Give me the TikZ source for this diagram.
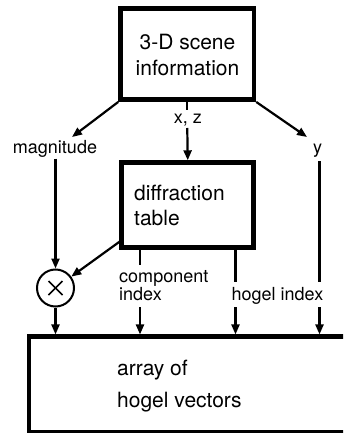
\documentclass[tikz,border=0pt]{standalone}
\usepackage{fontspec}
\setmainfont{TeX Gyre Heros}
\usetikzlibrary{arrows.meta}
\begin{document}
\begin{tikzpicture}[x=1pt,y=-1pt,
  bigbox/.style={draw,line width=4.5pt,inner sep=0pt,rectangle},
  arr/.style={line width=2.2pt,-{Triangle[length=10pt,width=8pt]}},
  ln/.style={line width=2.2pt},
  big/.style={font=\fontsize{21}{25}\selectfont,inner sep=0pt},
  small/.style={font=\fontsize{18}{20}\selectfont,inner sep=0pt}]
\useasboundingbox (0,0) rectangle (343,433);
\clip (0,0) rectangle (343,433);
% boxes
\node[bigbox,minimum width=133.5pt,minimum height=91.4pt] (scene) at (187.25,54) {};
\node[bigbox,line width=5pt,minimum width=132.1pt,minimum height=84.7pt] (table) at (187.75,205.15) {};
\node[bigbox,minimum width=331.2pt,minimum height=95.8pt] (array) at (194.4,384.6) {};
\node[draw,circle,line width=2pt,minimum size=37pt,inner sep=0pt] (mult) at (55.5,288) {};
\draw[line width=1.6pt] ([shift={(-7,-7)}]mult.center) -- ([shift={(7,7)}]mult.center);
\draw[line width=1.6pt] ([shift={(-7,7)}]mult.center) -- ([shift={(7,-7)}]mult.center);
% texts
\node[big,anchor=base] (t1) at (187.5,50) {3-D scene};
\node[big,anchor=base] (t2) at (187.5,76) {information};
\node[big,anchor=base west] (t3) at (134,200) {diffraction};
\node[big,anchor=base west] (t4) at (134,225) {table};
\node[big,anchor=base west] (t5) at (117,375) {array of};
\node[big,anchor=base west] (t6) at (117,407) {hogel vectors};
\node[small,anchor=base] (lxz) at (188,124) {x, z};
\node[small,anchor=base] (lmag) at (55,153) {magnitude};
\node[small,anchor=base] (ly) at (317.5,153) {y};
\node[small,anchor=base west] (lc1) at (119,282) {component};
\node[small,anchor=base west] (lc2) at (119,300) {index};
\node[small,anchor=base] (lh) at (277.5,300) {hogel index};
% coordinates
\coordinate (magtip) at (72,137);
\coordinate (ytip) at (307,137);
\coordinate (xzup) at (187.25,110);
\coordinate (xzdown) at (187.25,128);
\coordinate (magstart) at (55.5,158.5);
\coordinate (tabout) at (120.5,241);
\coordinate (c1) at (140,265);
\coordinate (c2) at (140,307);
\coordinate (h1) at (235.5,282);
\coordinate (h2) at (235.5,307);
\coordinate (y0) at (319.5,161);
\coordinate (y1) at (319.5,282);
\coordinate (y2) at (319.5,307);
% connectors
\draw[arr] (scene.south west) -- (magtip);
\draw[arr] (scene.south east) -- (ytip);
\draw[ln] (scene.south) -- (xzup);
\draw[arr] (xzdown) -- (table.north);
\draw[arr] (magstart) -- (mult.north);
\draw[arr] (tabout) -- (mult);
\draw[arr] (mult.south) -- (mult.south |- array.north);
\draw[ln] (c1 |- table.south) -- (c1);
\draw[arr] (c2) -- (c2 |- array.north);
\draw[ln] (h1 |- table.south) -- (h1);
\draw[arr] (h2) -- (h2 |- array.north);
\draw[ln] (y0) -- (y1);
\draw[arr] (y2) -- (y2 |- array.north);
\end{tikzpicture}
\end{document}
